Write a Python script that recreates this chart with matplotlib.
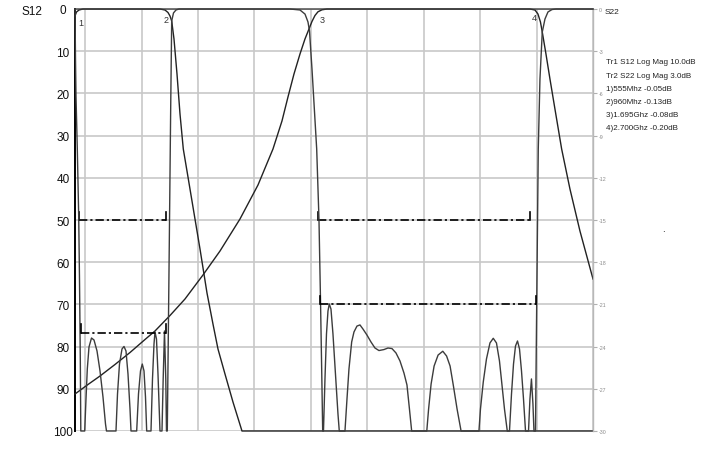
import matplotlib
matplotlib.use("Agg")
import matplotlib.pyplot as plt

plt.rcParams['font.family'] = ['Liberation Sans', 'DejaVu Sans']

# ---------------- data (frequency in MHz, levels in dB) ----------------
x_limits = [555, 2850]
x_grid = [600, 850, 1100, 1350, 1600, 1850, 2100, 2350, 2600, 2850]

s12_ticks = [0, 10, 20, 30, 40, 50, 60, 70, 80, 90, 100]
s12_labels = ['0', '10', '20', '30', '40', '50', '60', '70', '80', '90', '100']
s22_ticks = [0, -3, -6, -9, -12, -15, -18, -21, -24, -27, -30]
s22_labels = ['0', '-3', '-6', '-9', '-12', '-15', '-18', '-21', '-24', '-27', '-30']

# filter A (low band) S12 attenuation
s12_a_freq = [555, 561.6, 572.7, 590.4, 931.6, 953.7, 967.0, 975.9, 983.4, 993.6, 1006.9,
              1020.2, 1034.8, 1055.6, 1086.6, 1108.8, 1139.8, 1166.3, 1188.5, 1219.5,
              1254.9, 1294.8, 2850]
s12_a_db = [1.66, 0.71, 0.24, 0, 0, 0.24, 0.83, 1.66, 2.84, 7.11, 15.40,
            24.88, 33.18, 39.81, 49.76, 56.87, 67.30, 74.65, 80.57, 86.49,
            93.13, 100, 100]

# filter B (high band) S12 attenuation
s12_b_freq = [555.0, 612.6, 665.8, 732.2, 798.7, 865.1, 909.4, 975.9, 1042.3, 1122.0,
              1197.4, 1286.0, 1365.7, 1432.1, 1472.0, 1498.6, 1525.2, 1551.8, 1573.9,
              1591.6, 1604.9, 1618.2, 1631.5, 1649.2, 1671.4, 2570.7, 2592.8, 2606.1,
              2617.2, 2625.2, 2641.6, 2659.3, 2681.4, 2711.1, 2747.9, 2792.2, 2850]
s12_b_db = [91.23, 88.98, 86.97, 84.24, 81.40, 78.32, 76.30, 72.63, 68.72, 63.03,
            57.35, 49.76, 41.71, 33.18, 26.54, 20.85, 15.40, 10.66, 7.11,
            4.74, 2.96, 1.54, 0.66, 0.19, 0, 0, 0.24, 1.18,
            3.08, 5.45, 10.66, 16.59, 23.70, 33.18, 42.65, 52.61, 63.98]

# filter A S22 return loss
s22_a_freq = [555, 557.2, 559.4, 565.2, 571.4, 574.9, 578.5, 580.7, 598.0,
              603.7, 609.5, 617.0, 628.1, 639.2, 652.5, 665.8, 679.0, 690.1, 694.5,
              736.6, 743.3, 752.1, 763.2, 772.1, 780.9, 789.8, 798.7, 803.1,
              828.3, 836.3, 845.2, 853.1, 860.7, 867.3, 872.6,
              891.7, 898.3, 905.0, 909.4, 916.0, 922.7, 931.5,
              940.4, 945.7, 951.5, 957.2, 960.3,
              963.9, 972.5, 978.9, 983.4, 991.4, 1002.4, 1015.7, 2850]
s22_a_db = [0, -3.55, -6.18, -9.95, -14.72, -19.19, -24.88, -30, -30,
            -27.73, -25.59, -24.03, -23.39, -23.53, -24.31, -25.73, -27.58, -29.50, -30,
            -30, -27.37, -25.24, -24.17, -23.99, -24.31, -25.95, -28.43, -30,
            -30, -27.37, -25.73, -25.24, -25.73, -27.58, -30,
            -30, -26.30, -23.82, -22.96, -23.46, -25.95, -30,
            -30, -26.30, -22.89, -26.30, -30,
            -30, -17.06, -7.11, -0.85, -0.28, -0.07, 0, 0]

# filter B S22 return loss
s22_b_freq = [555, 1507.5, 1551.8, 1574.0, 1587.2, 1593.9, 1605.0, 1625.8, 1635.9, 1642.6,
              1647.9, 1652.4, 1655.9, 1662.5, 1669.2, 1675.8, 1681.6, 1689.1, 1697.9,
              1709.0, 1720.1, 1725.9, 1751.1, 1760.0, 1768.8, 1780.8, 1791.0, 1804.3,
              1817.6, 1830.8, 1848.6, 1866.3, 1884.0, 1901.7, 1923.9, 1941.6, 1959.3,
              1977.0, 1994.8, 2012.5, 2025.8, 2036.8, 2046.6, 2113.6, 2121.6, 2132.7,
              2146.0, 2163.7, 2184.5, 2201.3, 2216.8, 2231.4, 2247.8, 2265.5, 2344.7,
              2351.4, 2363.8, 2378.0, 2393.5, 2408.1, 2422.3, 2435.6, 2445.4, 2457.8,
              2470.2, 2480.0, 2488.9, 2497.8, 2506.6, 2515.5, 2524.4, 2533.2, 2542.1,
              2551.0, 2564.3, 2570.6, 2577.3, 2583.9, 2588.4, 2595.1, 2600.8, 2607.5,
              2615.0, 2625.2, 2637.2, 2650.5, 2668.2, 2685.9, 2850]
s22_b_db = [0, 0, -0.07, -0.36, -0.92, -1.56, -4.27, -9.95, -14.93, -20.62,
            -25.59, -30, -30, -26.30, -23.10, -21.47, -20.97, -21.33, -23.10,
            -25.95, -28.79, -30, -30, -27.73, -25.59, -23.67, -22.96, -22.54,
            -22.46, -22.75, -23.18, -23.67, -24.10, -24.28, -24.21, -24.10, -24.14,
            -24.45, -25.02, -25.88, -26.73, -28.44, -30, -30, -28.44, -26.66,
            -25.38, -24.60, -24.33, -24.67, -25.38, -26.78, -28.44, -30, -30,
            -28.44, -26.52, -24.88, -23.74, -23.41, -23.74, -25.02, -26.52, -28.44,
            -30, -30, -27.37, -25.24, -23.96, -23.60, -24.17, -25.73, -27.73,
            -30, -30, -27.73, -26.30, -28.08, -30, -30, -20.62, -9.95,
            -4.98, -1.64, -0.71, -0.21, -0.04, 0, 0]

# limit lines
rej_limit_a_freq = [571.4, 960.3]
rej_limit_b_freq = [1633.7, 2570.7]
rej_limit_db = 50
rl_limit_a_freq = [581.6, 958.1]
rl_limit_a_db = -23
rl_limit_b_freq = [1642.6, 2597.2]
rl_limit_b_db = -21

# markers
marker_ids = ['1', '2', '3', '4']
marker_label_freq = [581.6, 960.3, 1649.2, 2590.6]
marker_label_db = [3.1, 2.6, 2.6, 1.9]

info_lines = ['Tr1 S12 Log Mag 10.0dB', 'Tr2 S22 Log Mag 3.0dB', '1)555Mhz -0.05dB',
              '2)960Mhz -0.13dB', '3)1.695Ghz -0.08dB', '4)2.700Ghz -0.20dB']

# ---------------- figure ----------------
W, H = 701, 456
fig = plt.figure(figsize=(W / 100, H / 100), dpi=100)
fig.patch.set_facecolor('white')

L, R, T, B = 75, 593, 10, 432
ax = fig.add_axes([L / W, 1 - B / H, (R - L) / W, (B - T) / H])
ax.set_xlim(*x_limits)
ax.set_ylim(100, 0)
ax.set_xticks(x_grid)
ax.set_yticks(s12_ticks)
ax.set_yticklabels(s12_labels)
ax.tick_params(axis='x', length=0, labelbottom=False)
ax.tick_params(axis='y', length=0, pad=8.6, labelsize=8.5, labelcolor='#111111')
for lbl in ax.get_yticklabels():
    lbl.set_horizontalalignment('center')
ax.grid(True, color='#c8c8c8', linewidth=1.2)
ax.set_axisbelow(True)
for s in ['top', 'bottom', 'right']:
    ax.spines[s].set_visible(False)
ax.spines['left'].set_color('black')
ax.spines['left'].set_linewidth(1.4)

ax2 = ax.twinx()
ax2.set_ylim(-30, 0)
ax2.set_yticks(s22_ticks)
ax2.set_yticklabels(s22_labels)
ax2.tick_params(axis='y', direction='out', length=3.0, width=0.8, color='#b0b0b0',
                labelsize=3.8, labelcolor='#8a8a8a', pad=0.8)
for s in ['top', 'bottom', 'left']:
    ax2.spines[s].set_visible(False)
ax2.spines['right'].set_color('#b8b8b8')
ax2.spines['right'].set_linewidth(1.0)

trace_kw = dict(linewidth=1.0, clip_on=False, solid_joinstyle='round')
ax.plot(s12_a_freq, s12_a_db, color='#222222', zorder=5, **trace_kw)
ax.plot(s12_b_freq, s12_b_db, color='#222222', zorder=5, **trace_kw)
ax2.plot(s22_a_freq, s22_a_db, color='#3c3c3c', zorder=4, **trace_kw)
ax2.plot(s22_b_freq, s22_b_db, color='#3c3c3c', zorder=4, **trace_kw)

dash = (0, (5, 1.8, 1.3, 1.8))
lim_kw = dict(color='black', linewidth=1.2, linestyle=dash, zorder=6)
tick_kw = dict(color='black', linewidth=1.2, zorder=6)
for fr in (rej_limit_a_freq, rej_limit_b_freq):
    ax.plot(fr, [rej_limit_db, rej_limit_db], **lim_kw)
    for f in fr:
        ax.plot([f, f], [rej_limit_db, rej_limit_db - 2], **tick_kw)
for fr, lv in ((rl_limit_a_freq, rl_limit_a_db), (rl_limit_b_freq, rl_limit_b_db)):
    ax2.plot(fr, [lv, lv], **lim_kw)
    for f in fr:
        ax2.plot([f, f], [lv, lv + 0.6], **tick_kw)

for mid, mf, md in zip(marker_ids, marker_label_freq, marker_label_db):
    ax.text(mf, md, mid, fontsize=6.5, color='#333333', ha='center', va='center', zorder=7)

def px(x, y):
    return x / W, 1 - y / H

fig.text(*px(22, 12), 'S12', fontsize=8.5, color='#111111', ha='left', va='center')
fig.text(*px(605, 12), 'S22', fontsize=6, color='#222222', ha='left', va='center')
for i, line in enumerate(info_lines):
    fig.text(*px(606, 63 + i * 13.2), line, fontsize=5.8, color='#222222',
             ha='left', va='center')
fig.text(*px(663, 229), '.', fontsize=7, color='black', ha='center', va='center')

fig.savefig('out.png', dpi=100, facecolor='white')
